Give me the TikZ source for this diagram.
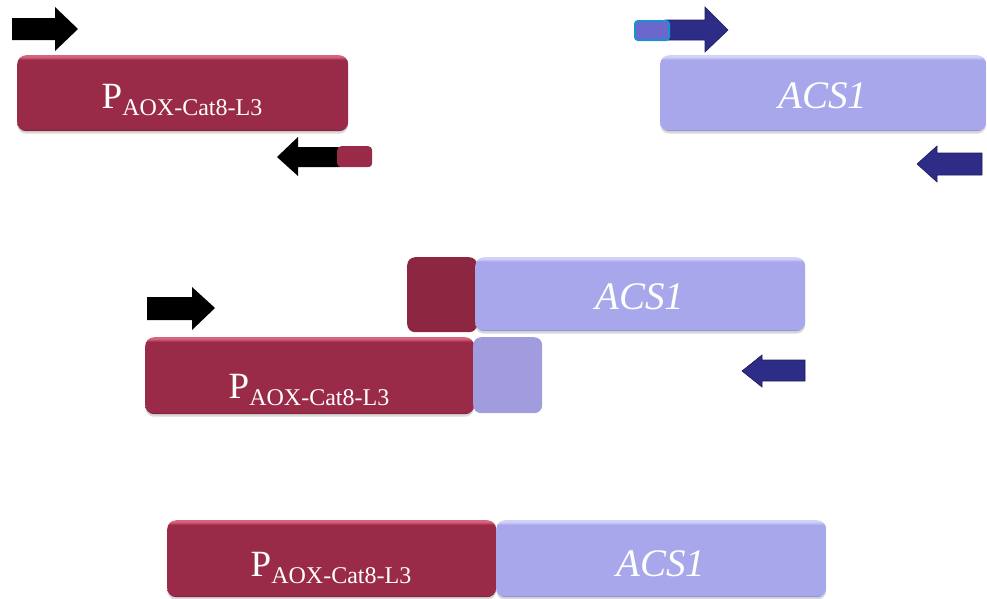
\documentclass[tikz,border=0pt]{standalone}
\usepackage{fontspec}
\setmainfont{Liberation Serif}
\usetikzlibrary{shadows}

\definecolor{maroonbase}{HTML}{9A2B48}
\definecolor{maroonlight}{HTML}{D8657F}
\definecolor{maroondark}{HTML}{6E1C33}
\definecolor{maroonflat}{HTML}{8C2641}
\definecolor{lavbase}{HTML}{A8A7EB}
\definecolor{lavlight}{HTML}{D2D2F8}
\definecolor{lavdark}{HTML}{8584C2}
\definecolor{lavflat}{HTML}{A09CDE}
\definecolor{navy}{HTML}{2D2C86}
\definecolor{navyedge}{HTML}{1E1D5C}
\definecolor{tailfill}{HTML}{6B67CC}
\definecolor{tailedge}{HTML}{1E8FD0}

% glossy bars: thin light rim on top, darker rim at the bottom
\pgfdeclareverticalshading{maroongloss}{100bp}{color(0bp)=(maroondark); color(25bp)=(maroondark); color(26.5bp)=(maroonbase); color(72bp)=(maroonbase); color(74bp)=(maroonlight); color(75bp)=(maroonlight); color(100bp)=(maroonlight)}
\pgfdeclareverticalshading{lavgloss}{100bp}{color(0bp)=(lavdark); color(25bp)=(lavdark); color(26.5bp)=(lavbase); color(72bp)=(lavbase); color(74bp)=(lavlight); color(75bp)=(lavlight); color(100bp)=(lavlight)}

\newcommand\promsub[1]{\raisebox{-7pt}{\fontsize{24}{24}\selectfont #1}}

\begin{document}
\begin{tikzpicture}[x=1pt, y=-1pt,
  gene/.style={rectangle, rounded corners=9pt, inner sep=0pt, anchor=north west,
    drop shadow={shadow xshift=0pt, shadow yshift=-2.5pt, opacity=0.3}},
  promoter/.style={gene, shading=maroongloss},
  orf/.style={gene, shading=lavgloss},
  overhang/.style={rectangle, rounded corners=8pt, inner sep=0pt, anchor=north west},
  ptext/.style={text=white, inner sep=0pt, anchor=base, font=\fontsize{37}{37}\selectfont},
  gtext/.style={text=white, inner sep=0pt, anchor=base, font=\fontsize{39}{39}\selectfont\itshape},
  blackprimer/.style={fill=black},
  navyprimer/.style={fill=navy, draw=navyedge, line width=0.6pt},
]
\useasboundingbox (0,0) rectangle (987,598);

% ---- top row: promoter and ACS1 amplified separately ----
\fill[blackprimer] (12,18) -- (55,18) -- (55,7) -- (78,29) -- (55,51) -- (55,40) -- (12,40) -- cycle;
\node[promoter, minimum width=331pt, minimum height=76pt] (p1) at (17,55) {};
\node[ptext] (p1t) at (182,108) {P\promsub{AOX-Cat8-L3}};
\fill[blackprimer] (340,147) -- (298,147) -- (298,137) -- (277,157) -- (298,176) -- (298,167) -- (340,167) -- cycle;
\node[overhang, rounded corners=4pt, fill=maroonbase, minimum width=35pt, minimum height=21pt] (r1tail) at (337,146) {};

\fill[navyprimer] (665,20) -- (705,20) -- (705,7) -- (728,30) -- (705,52) -- (705,40) -- (665,40) -- cycle;
\node[overhang, rounded corners=3pt, fill=tailfill, draw=tailedge, line width=2pt, minimum width=34pt, minimum height=19pt] (f2tail) at (634,20) {};
\node[orf, minimum width=326pt, minimum height=76pt] (g1) at (660,55) {};
\node[gtext] (g1t) at (823,108) {ACS1};
\fill[navyprimer] (982,153) -- (937,153) -- (937,146) -- (917,164) -- (937,182) -- (937,175) -- (982,175) -- cycle;

% ---- middle row: overlapping fragments ----
\fill[blackprimer] (147,297) -- (192,297) -- (192,287) -- (215,308) -- (192,330) -- (192,320) -- (147,320) -- cycle;
\node[overhang, fill=maroonflat, minimum width=70pt, minimum height=75pt] (ov1) at (407,257) {};
\node[orf, minimum width=330pt, minimum height=74pt] (g2) at (475,257) {};
\node[gtext] (g2t) at (640,309) {ACS1};
\node[promoter, minimum width=329pt, minimum height=77pt] (p2) at (145,337) {};
\node[ptext] (p2t) at (309,398) {P\promsub{AOX-Cat8-L3}};
\node[overhang, fill=lavflat, minimum width=69pt, minimum height=76pt] (ov2) at (473,337) {};
\fill[navyprimer] (805,360) -- (762,360) -- (762,355) -- (742,371) -- (762,387) -- (762,381) -- (805,381) -- cycle;

% ---- bottom row: fused product ----
\node[promoter, minimum width=329pt, minimum height=77pt] (p3) at (167,520) {};
\node[ptext] (p3t) at (331,576) {P\promsub{AOX-Cat8-L3}};
\node[orf, minimum width=330pt, minimum height=77pt] (g3) at (496,520) {};
\node[gtext] (g3t) at (661,576) {ACS1};
\end{tikzpicture}
\end{document}
